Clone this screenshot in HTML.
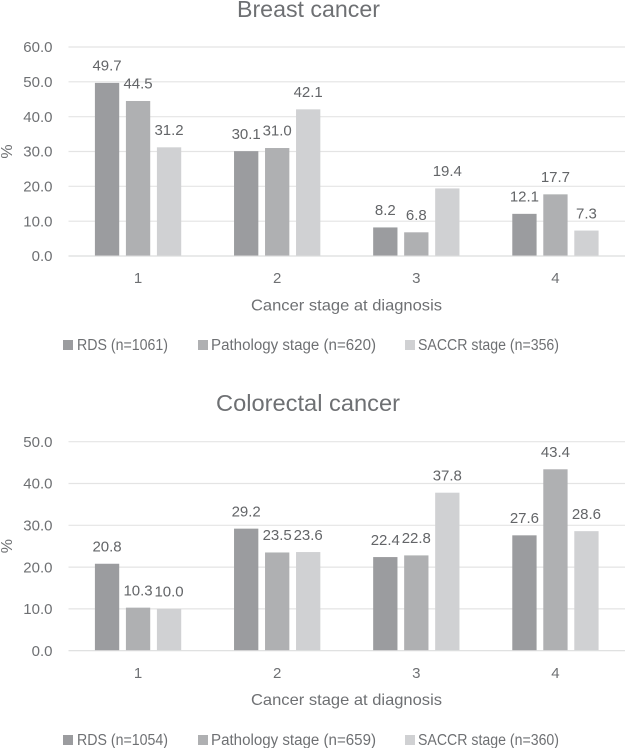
<!DOCTYPE html>
<html lang="en">
<head>
<meta charset="utf-8">
<title>Cancer stage at diagnosis</title>
<style>
html,body{margin:0;padding:0;background:#fff;}
svg{display:block;filter:blur(0.3px);}
text{font-family:"Liberation Sans",sans-serif;fill:#6e7073;}
</style>
</head>
<body>
<svg id="chart" xmlns="http://www.w3.org/2000/svg" width="625" height="748" viewBox="0 0 625 748"></svg>
<script>
var categories = ['1', '2', '3', '4'];
var seriesNames = ['RDS', 'Pathology stage', 'SACCR stage'];

var breastRds = [49.7, 30.1, 8.2, 12.1];
var breastPathology = [44.5, 31.0, 6.8, 17.7];
var breastSaccr = [31.2, 42.1, 19.4, 7.3];
var breastCounts = [1061, 620, 356];
var breastTicks = [0, 10, 20, 30, 40, 50, 60];

var colorectalRds = [20.8, 29.2, 22.4, 27.6];
var colorectalPathology = [10.3, 23.5, 22.8, 43.4];
var colorectalSaccr = [10.0, 23.6, 37.8, 28.6];
var colorectalCounts = [1054, 659, 360];
var colorectalTicks = [0, 10, 20, 30, 40, 50];

var NS = 'http://www.w3.org/2000/svg';
var root = document.getElementById('chart');
var COLORS = ['#9b9c9f', '#afb0b2', '#d0d1d3'];
var PLOT_LEFT = 68.5, PLOT_RIGHT = 625, BAR_W = 24.3, BAR_STEP = 31;
var LEGEND_SWATCH_X = [63, 198, 405];
var LEGEND_TEXT_X = [77, 211, 418];
var LEGEND_TEXT_W = [91, 165, 141];

function make(tag, attrs, parent, content) {
  var el = document.createElementNS(NS, tag);
  for (var k in attrs) el.setAttribute(k, attrs[k]);
  if (content !== undefined) el.textContent = content;
  parent.appendChild(el);
  return el;
}

function drawPanel(p) {
  var g = make('g', {}, root);
  
  

  var maxTick = p.ticks[p.ticks.length - 1];
  function yScale(v) { return p.y0 - (v / maxTick) * (p.y0 - p.yTop); }
  function xScale(i) { return PLOT_LEFT + (PLOT_RIGHT - PLOT_LEFT) * (i + 0.5) / categories.length; }

  var title = make('text', {x: p.titleX, y: p.titleY, 'font-size': 23.5, textLength: p.titleW, lengthAdjust: 'spacingAndGlyphs'}, g, p.title);
  
  

  p.ticks.forEach(function (t) {
    var y = yScale(t);
    var line = make('line', {x1: PLOT_LEFT, x2: PLOT_RIGHT, y1: y, y2: y, stroke: t === 0 ? '#dcdddd' : '#e4e4e4', 'stroke-width': 1.2}, g);
    
    
    var label = make('text', {x: 52.5, y: y + 5.2, 'font-size': 15, 'text-anchor': 'end'}, g, t.toFixed(1));
    
    
  });

  var yTitleY = (p.y0 + p.yTop) / 2;
  var yTitle = make('text', {x: 0, y: 0, 'font-size': 16, 'text-anchor': 'middle', transform: 'translate(12,' + yTitleY + ') rotate(-90)'}, g, '%');
  
  

  categories.forEach(function (c, i) {
    var cx = xScale(i);
    p.series.forEach(function (vals, s) {
      var barX = cx + (s - 1) * BAR_STEP - BAR_W / 2;
      var top = yScale(vals[i]);
      var bar = make('rect', {x: barX, y: top, width: BAR_W, height: p.y0 - top - 0.5, fill: COLORS[s]}, g);
      
      
      var val = make('text', {x: barX + BAR_W / 2, y: top - 12.3, 'font-size': 15, 'text-anchor': 'middle', style: 'fill:#636568'}, g, vals[i].toFixed(1));
      
      
    });
    var catLabel = make('text', {x: cx, y: p.y0 + 27.2, 'font-size': 15, 'text-anchor': 'middle'}, g, c);
    
    
  });

  var xTitle = make('text', {x: 251, y: p.y0 + 54.5, 'font-size': 16, textLength: 191, lengthAdjust: 'spacingAndGlyphs'}, g, 'Cancer stage at diagnosis');
  
  

  seriesNames.forEach(function (name, s) {
    var swatch = make('rect', {x: LEGEND_SWATCH_X[s], y: p.legendY - 5, width: 10, height: 10, fill: COLORS[s]}, g);
    
    
    var entry = make('text', {x: LEGEND_TEXT_X[s], y: p.legendY + 5.2, 'font-size': 15.5, textLength: LEGEND_TEXT_W[s], lengthAdjust: 'spacingAndGlyphs'}, g, name + ' (n=' + p.counts[s] + ')');
    
    
  });
}

drawPanel({
  key: 'breast', title: 'Breast cancer', titleX: 237, titleY: 17, titleW: 143,
  y0: 256, yTop: 47, ticks: breastTicks, legendY: 345, counts: breastCounts,
  series: [breastRds, breastPathology, breastSaccr]
});
drawPanel({
  key: 'colorectal', title: 'Colorectal cancer', titleX: 216, titleY: 411, titleW: 184,
  y0: 650.7, yTop: 441.7, ticks: colorectalTicks, legendY: 740, counts: colorectalCounts,
  series: [colorectalRds, colorectalPathology, colorectalSaccr]
});
</script>
</body>
</html>
